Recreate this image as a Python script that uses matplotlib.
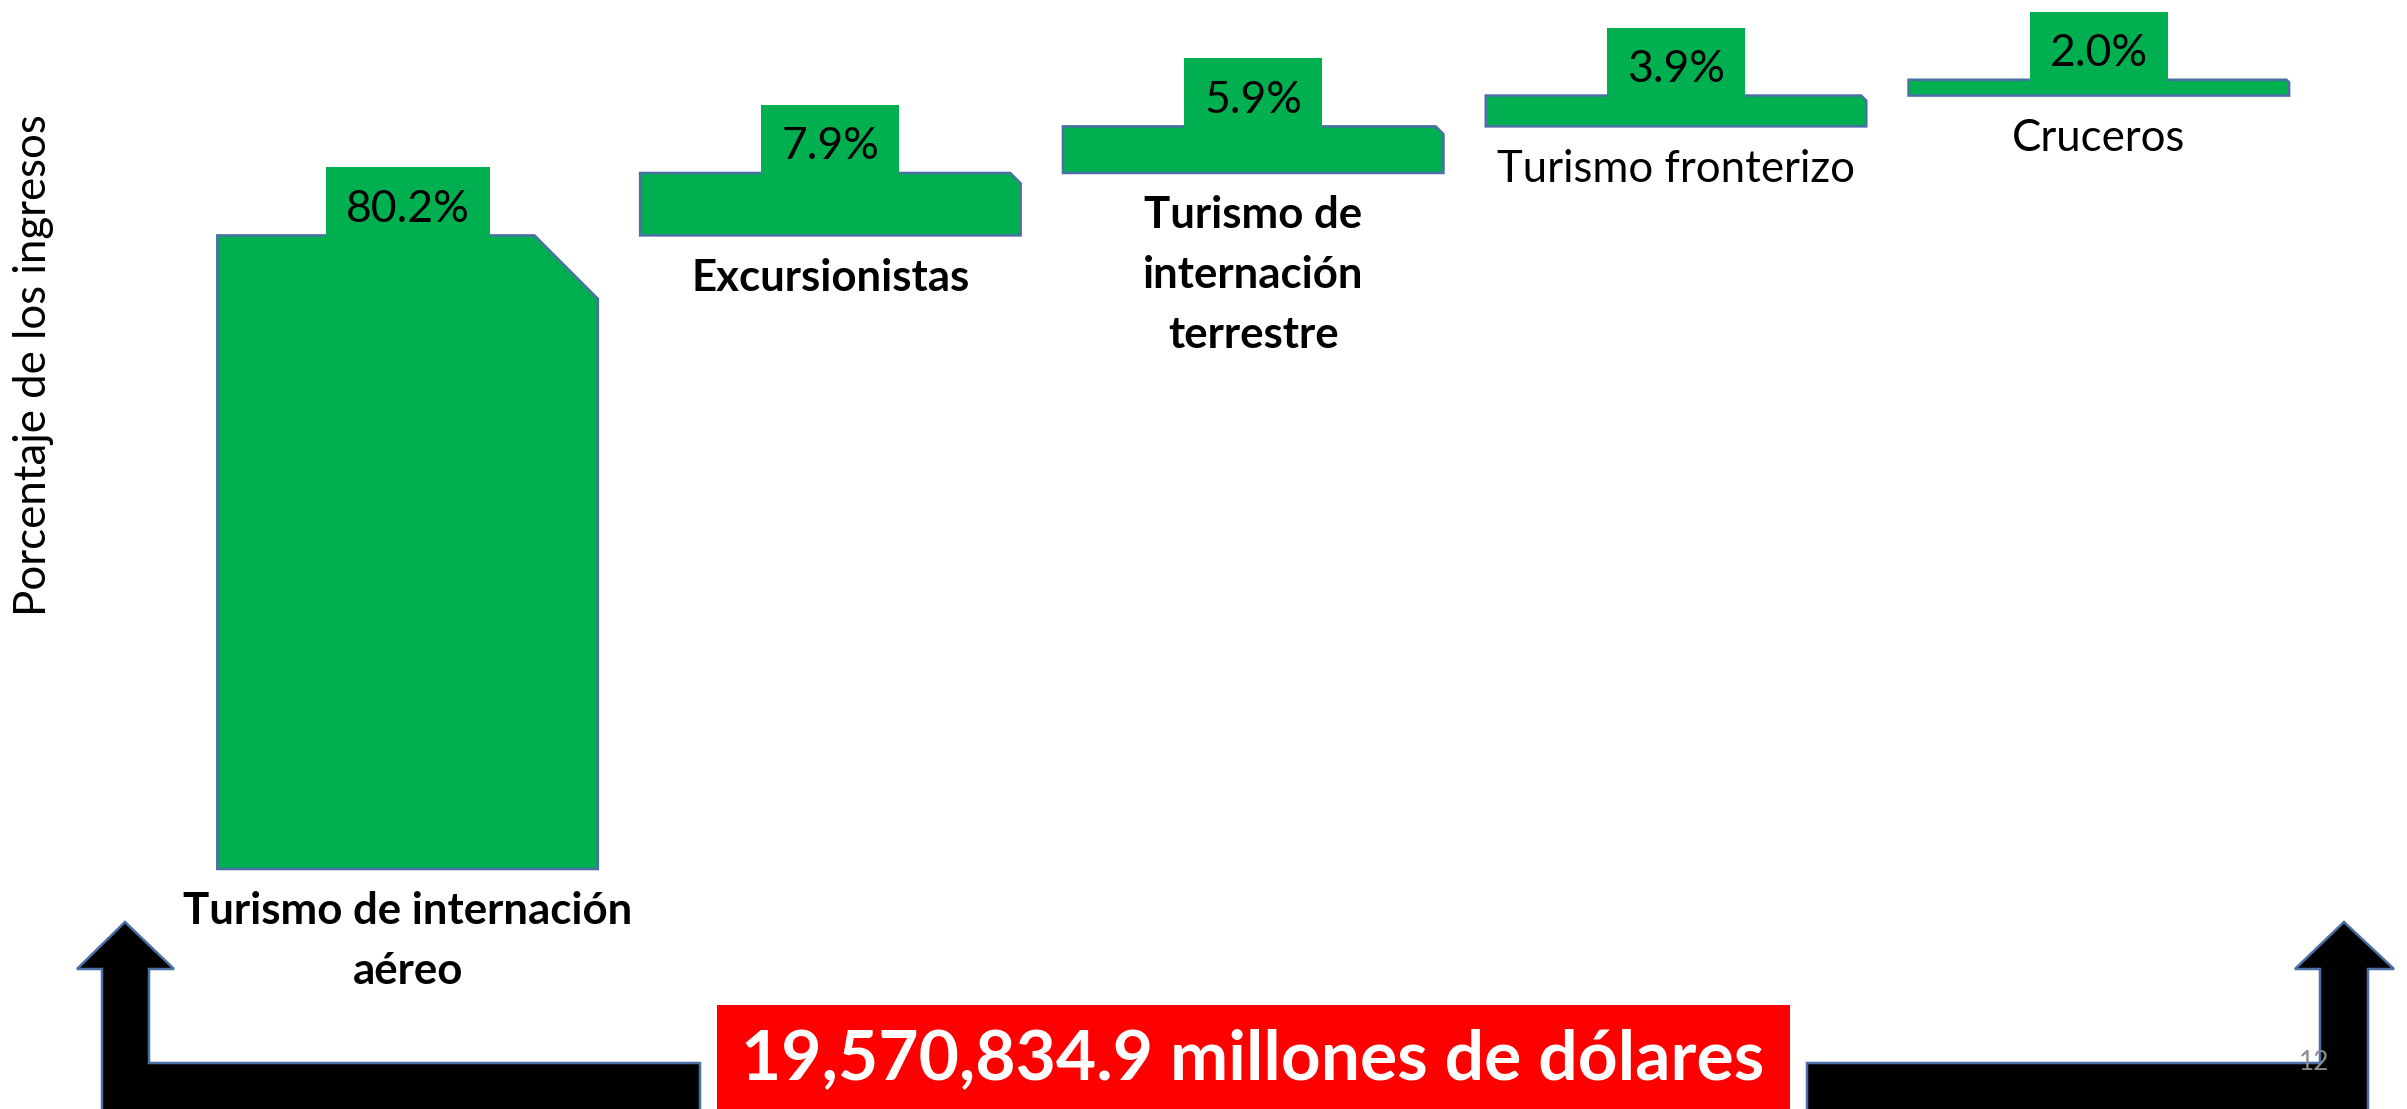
import matplotlib.pyplot as plt
from matplotlib.patches import Polygon, Rectangle

plt.rcParams['font.family'] = ['Lato', 'DejaVu Sans']

# datos
categorias = ["Turismo de internación\naéreo", "Excursionistas",
              "Turismo de\ninternación\nterrestre", "Turismo fronterizo", "Cruceros"]
porcentajes = [80.2, 7.9, 5.9, 3.9, 2.0]
etiquetas = ["80.2%", "7.9%", "5.9%", "3.9%", "2.0%"]
negrita = [True, True, True, False, False]
total_texto = "19,570,834.9 millones de dólares"
eje_y = "Porcentaje de los ingresos"
pagina = "12"

verde = "#00B050"
borde = "#4A6FA5"

fig = plt.figure(figsize=(24.07, 11.09), dpi=100)
ax = fig.add_axes([0.0815, 0.2164, 0.8783, 0.7124])
ax.set_xlim(-0.5, 4.5)
ax.set_ylim(0, 100)
ax.axis('off')

renderer = fig.canvas.get_renderer()
bb_ax = ax.get_window_extent(renderer)
px = bb_ax.width / 5.0      # pixeles por unidad x
py = bb_ax.height / 100.0   # pixeles por unidad y

ancho = 0.9
alto_caja = 68 / py
base = 0
for i, v in enumerate(porcentajes):
    x0, x1 = i - ancho / 2, i + ancho / 2
    y0, y1 = base, base + v
    # esquina recortada (1/6 del lado menor)
    corte = min(v * py, ancho * px) / 6
    cx, cy = corte / px, corte / py
    pts = [(x0, y0), (x1, y0), (x1, y1 - cy), (x1 - cx, y1), (x0, y1)]
    ax.add_patch(Polygon(pts, closed=True, fc=verde, ec=borde, lw=1.8,
                         clip_on=False, zorder=2))

    # caja con el porcentaje
    t = ax.text(i, y1 + alto_caja / 2 - 4 / py, etiquetas[i], ha='center',
                va='center_baseline', fontsize=32, color='black', zorder=4,
                clip_on=False)
    wt = t.get_window_extent(renderer).width
    wc = (wt + 40) / px
    ax.add_patch(Rectangle((i - wc / 2, y1 - 2 / py), wc, alto_caja + 2 / py,
                           fc=verde, ec='none', zorder=3, clip_on=False))

    # nombre de la categoria
    ax.annotate(categorias[i], xy=(i, y0), xytext=(0, -16),
                textcoords='offset points', ha='center', va='top',
                fontsize=31.5, fontweight='bold' if negrita[i] else 'normal',
                linespacing=1.6, annotation_clip=False)
    base += v

fig.text(34 / 2407, 1 - 365 / 1109, eje_y, rotation=90, ha='center',
         va='center', fontsize=31.5)

# decoracion inferior (coordenadas en pixeles de la figura)
deco = fig.add_axes([0, 0, 1, 1], zorder=-1)
deco.set_xlim(0, 2407)
deco.set_ylim(1109, 0)
deco.axis('off')

flecha_izq = [(102, 1120), (102, 969), (77, 969), (125, 922), (174, 969),
              (149, 969), (149, 1063), (700, 1063), (700, 1120)]
flecha_der = [(1807, 1120), (1807, 1063), (2320, 1063), (2320, 969),
              (2295, 969), (2344, 922), (2394, 969), (2368, 969), (2368, 1120)]
for f in (flecha_izq, flecha_der):
    deco.add_patch(Polygon(f, closed=True, fc='black', ec=borde, lw=1.8))

deco.add_patch(Rectangle((717, 1005), 1790 - 717, 120, fc='#FF0000', ec='none'))
deco.text(1253, 1060, total_texto, ha='center', va='center', color='white',
          fontsize=50, fontweight='bold')
deco.text(2314, 1062, pagina, ha='center', va='center', color='#8C8C8C',
          fontsize=19)

fig.savefig('out.png', dpi=100)
